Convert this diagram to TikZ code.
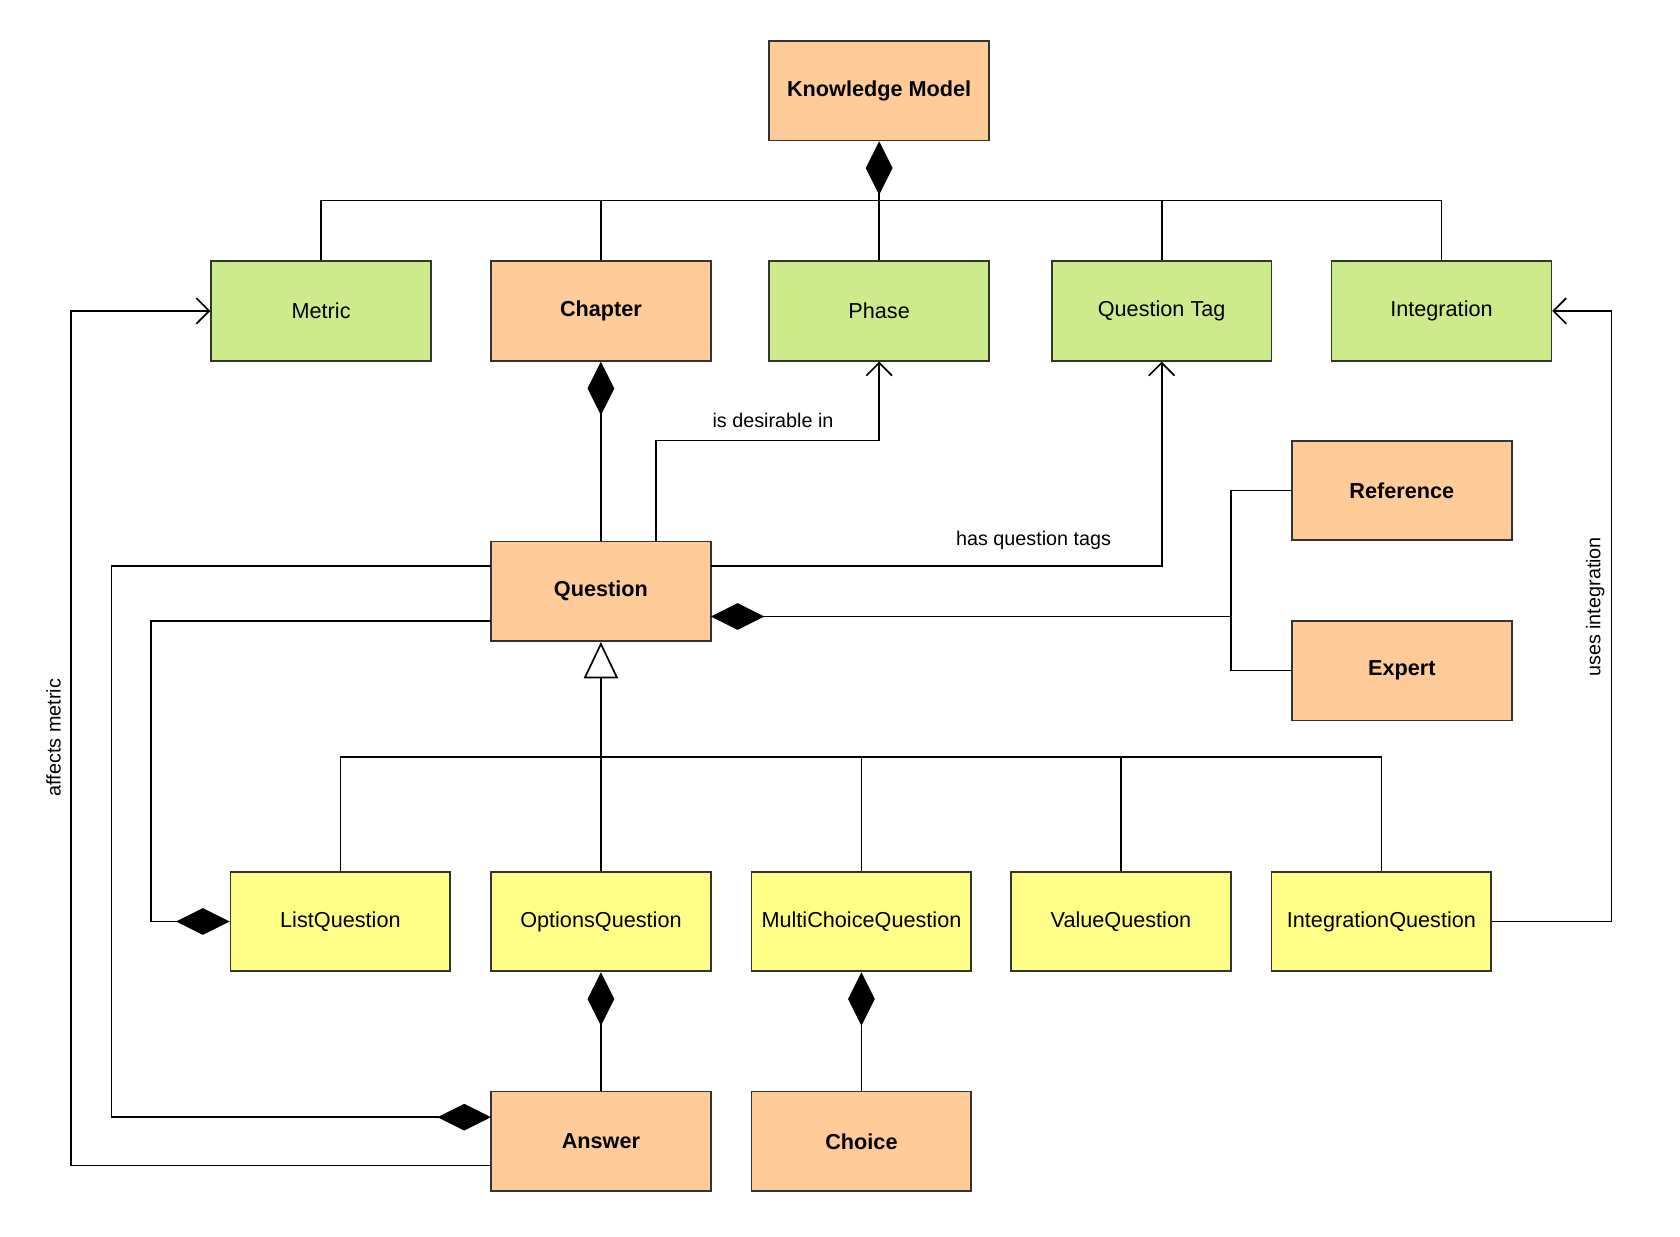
\documentclass[tikz,border=0pt]{standalone}
\usepackage{fontspec}
\setmainfont{Liberation Sans}
\usetikzlibrary{arrows.meta,calc}
\definecolor{cor}{HTML}{FFCC99}
\definecolor{cgr}{HTML}{CDEB8B}
\definecolor{cye}{HTML}{FFFF88}
\begin{document}
\begin{tikzpicture}[x=0.02cm,y=-0.02cm,
 box/.style={draw=black!80,line width=0.9pt,minimum width=4.1cm,minimum height=1.86cm,inner sep=0pt,font=\fontsize{11.5}{13}\selectfont},
 ob/.style={box,fill=cor,font=\fontsize{11.5}{13}\selectfont\bfseries},
 gb/.style={box,fill=cgr},
 yb/.style={box,fill=cye},
 ln/.style={line width=0.9pt},
 comp/.style={ln,{Diamond[length=1cm,width=0.5cm]}-},
 assoc/.style={ln,-{Straight Barb[length=0.24cm,width=0.48cm]}},
 inh/.style={ln,{Triangle[open,length=0.68cm,width=0.64cm,fill=white]}-},
 lbl/.style={font=\fontsize{10.5}{12}\selectfont}]
\useasboundingbox (0,0) rectangle (1567,1153);
\node[ob] (km) at (820,84.5) {Knowledge Model};
\node[gb] (metric) at (299.5,290) {Metric};
\node[ob] (chap) at (560.5,290) {Chapter};
\node[gb] (phase) at (820,290) {Phase};
\node[gb] (qtag) at (1083.5,290) {Question Tag};
\node[gb] (integ) at (1344.5,290) {Integration};
\node[ob] (q) at (560.5,551.5) {Question};
\node[ob] (ref) at (1307.5,457.5) {Reference};
\node[ob] (exp) at (1307.5,625.5) {Expert};
\node[yb] (lq) at (317.5,859.5) {ListQuestion};
\node[yb] (oq) at (560.5,859.5) {OptionsQuestion};
\node[yb] (mq) at (803.5,859.5) {MultiChoiceQuestion};
\node[yb] (vq) at (1045.5,859.5) {ValueQuestion};
\node[yb] (iq) at (1288.5,859.5) {IntegrationQuestion};
\node[ob] (ans) at (560.5,1064.5) {Answer};
\node[ob] (cho) at (803.5,1064.5) {Choice};
% knowledge model tree
\coordinate (kb) at (820,187);
\draw[comp] (km.south) -- (kb);
\draw[ln] (metric.north) |- (kb) -| (integ.north);
\draw[ln] (chap.north) -- (chap.north |- kb);
\draw[ln] (phase.north) -- (kb);
\draw[ln] (qtag.north) -- (qtag.north |- kb);
% chapter - question
\draw[comp] (chap.south) -- (q.north);
% is desirable in
\coordinate (qd) at (612,505);
\draw[assoc] (qd) |- (720,411) -| (phase.south);
\node[lbl] at (721,392) {is desirable in};
% has question tags
\coordinate (qt) at (663,528);
\draw[assoc] (qt) -| (qtag.south);
\node[lbl] at (964,504) {has question tags};
% reference / expert
\coordinate (rb) at (1148,575);
\coordinate (qr) at (663,575);
\draw[ln] (ref.west) -| (rb) |- (exp.west);
\draw[comp] (qr) -- (rb);
% inheritance
\coordinate (ib) at (560.5,706);
\draw[inh] (q.south) -- (oq.north);
\draw[ln] (lq.north) |- (ib) -| (iq.north);
\draw[ln] (mq.north) -- (mq.north |- ib);
\draw[ln] (vq.north) -- (vq.north |- ib);
% question - answer
\coordinate (qa) at (458,528);
\coordinate (aa) at (458,1042);
\draw[comp] (aa) -| (104,800) |- (qa);
% question - list question
\coordinate (ql) at (458,579);
\draw[comp] (lq.west) -| (141,700) |- (ql);
% affects metric
\coordinate (am) at (458,1087);
\draw[assoc] (am) -| (66,600) |- (metric.west);
\node[lbl,rotate=90] at (50,688) {affects metric};
% uses integration
\draw[assoc] (iq.east) -| (1503,600) |- (integ.east);
\node[lbl,rotate=90] at (1488,566) {uses integration};
% compositions
\draw[comp] (oq.south) -- (ans.north);
\draw[comp] (mq.south) -- (cho.north);
\end{tikzpicture}
\end{document}
